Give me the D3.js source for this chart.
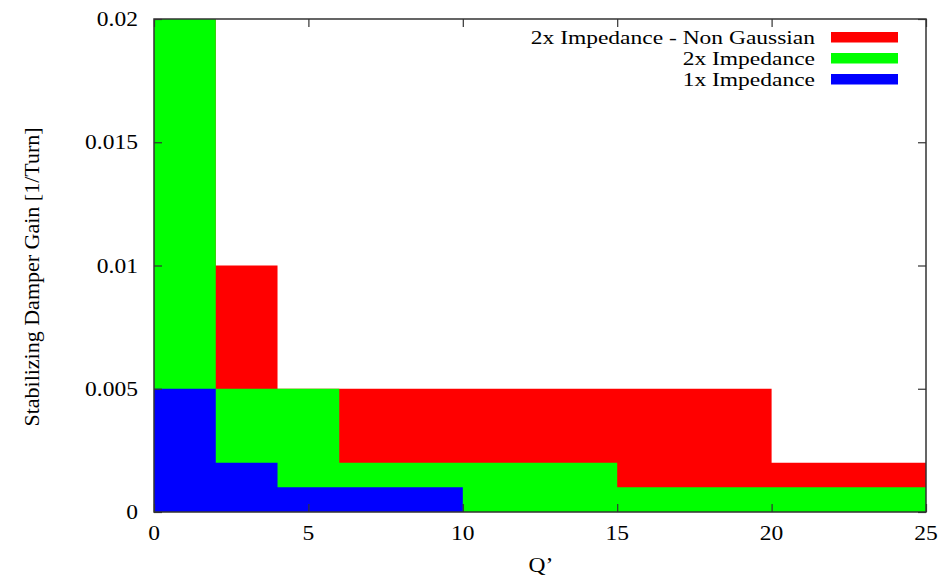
<!DOCTYPE html>
<html>
<head>
<meta charset="utf-8">
<script src="https://cdn.jsdelivr.net/npm/d3@7"></script>
<style>
  html, body { margin: 0; padding: 0; background: #fff; }
  svg { display: block; }
</style>
</head>
<body>
<svg id="chart" width="942" height="578"></svg>
<script>
// Step edges along Q' and the gain level held over each interval
const qEdges = [0, 2, 4, 6, 10, 15, 20, 25];
const gainNonGaussian2x = [0.02, 0.01, 0.005, 0.005, 0.005, 0.005, 0.002];
const gainImpedance2x   = [0.02, 0.005, 0.005, 0.002, 0.002, 0.001, 0.001];
const gainImpedance1x   = [0.005, 0.002, 0.001, 0.001, 0, 0, 0];

const seriesNames  = ["2x Impedance - Non Gaussian", "2x Impedance", "1x Impedance"];
const seriesColors = ["#ff0000", "#00ff00", "#0000ff"];

const xTicks = [0, 5, 10, 15, 20, 25];
const yTicks = [0, 0.005, 0.01, 0.015, 0.02];
const yTickLabels = ["0", "0.005", "0.01", "0.015", "0.02"];

const FONT = '"Liberation Serif", "Times New Roman", serif';

const svg = d3.select("#chart");
const plotL = 154, plotR = 926, plotT = 19, plotB = 512;

const x = d3.scaleLinear().domain([0, 25]).range([plotL, plotR]);
const y = d3.scaleLinear().domain([0, 0.02]).range([plotB, plotT]);

// Horizontal text placed at (px, py), widened by sx around its anchor
function label(parent, px, py, str, anchor, fs = 21, sx = 1.12) {
  return parent.append("text")
    .attr("transform", `translate(${px},${py}) scale(${sx},1)`)
    .attr("text-anchor", anchor || "start")
    .style("font-family", FONT).style("font-size", fs + "px").style("fill", "#000")
    .text(str);
}

// Filled step areas, drawn back to front
const series = [gainNonGaussian2x, gainImpedance2x, gainImpedance1x];
const area = d3.area()
  .curve(d3.curveStepAfter)
  .x(d => x(d.q))
  .y0(y(0))
  .y1(d => y(d.v));

series.forEach((vals, i) => {
  const pts = qEdges.map((q, k) => ({ q, v: vals[Math.min(k, vals.length - 1)] }));
  svg.append("path")
    .datum(pts)
    .attr("d", area)
    .attr("fill", seriesColors[i])
    .attr("stroke", "none");
});

// Frame
svg.append("rect")
  .attr("x", plotL).attr("y", plotT)
  .attr("width", plotR - plotL).attr("height", plotB - plotT)
  .attr("fill", "none").attr("stroke", "#333").attr("stroke-width", 1.5);

// Axes with inward, mirrored ticks; labels are set below
const tickLen = 8;
const axes = [
  [d3.axisBottom(x).tickValues(xTicks), `translate(0,${plotB})`],
  [d3.axisTop(x).tickValues(xTicks), `translate(0,${plotT})`],
  [d3.axisLeft(y).tickValues(yTicks), `translate(${plotL},0)`],
  [d3.axisRight(y).tickValues(yTicks), `translate(${plotR},0)`]
];
axes.forEach(([ax, tr]) => {
  const g = svg.append("g").attr("transform", tr)
    .call(ax.tickSizeInner(-tickLen).tickSizeOuter(0).tickFormat(""));
  g.select(".domain").remove();
  g.selectAll(".tick text").remove();
  g.selectAll(".tick line").attr("stroke", "#333").attr("stroke-width", 1.2);
});

// Tick labels positioned from the scales
const tickLabels = svg.append("g");
xTicks.forEach(t => label(tickLabels, x(t), 540, String(t), "middle"));
yTicks.forEach((t, i) => label(tickLabels, plotL - 16, y(t) + 7, yTickLabels[i], "end"));

// Axis titles
label(svg, 541, 572, "Q’", "middle");

svg.append("text")
  .attr("transform", `translate(39,${277}) rotate(-90)`)
  .attr("text-anchor", "middle")
  .style("font-family", FONT).style("font-size", "22px").style("fill", "#000")
  .text("Stabilizing Damper Gain [1/Turn]");

// Legend
const legend = svg.append("g");
seriesNames.forEach((name, i) => {
  const base = 44 + i * 21;
  label(legend, 815, base, name, "end", 18.5, 1.27);
  legend.append("rect")
    .attr("x", 831).attr("y", base - 12)
    .attr("width", 67).attr("height", 10.5)
    .attr("fill", seriesColors[i]);
});
</script>
</body>
</html>
